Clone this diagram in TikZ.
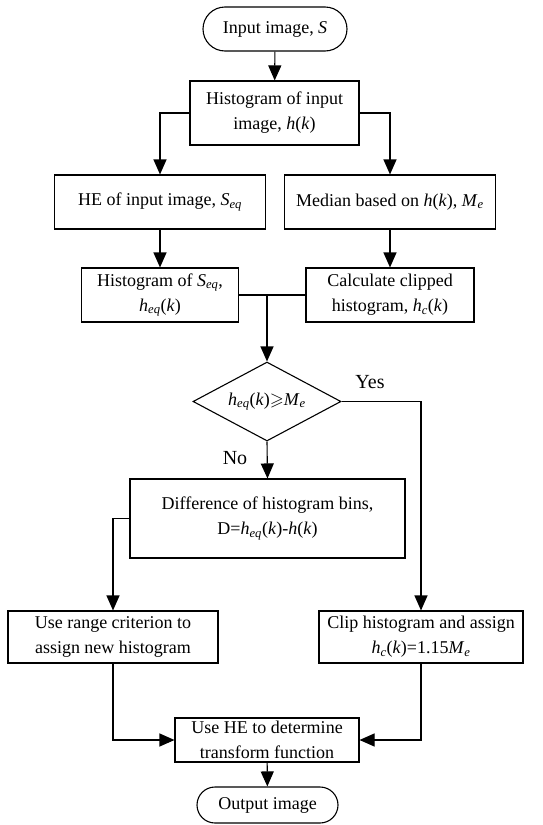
\documentclass[tikz,border=0pt]{standalone}
\usepackage{fontspec}
\setmainfont{Liberation Serif}
\usepackage{amssymb}
\usetikzlibrary{arrows.meta,shapes.geometric}
\newcommand{\iv}[1]{\textit{#1}}
\newcommand{\subi}[1]{\textsubscript{\textit{#1}}}
\begin{document}
\begin{tikzpicture}[x=1pt,y=-1pt,
  every node/.style={font=\fontsize{18}{25}\selectfont},
  stepbox/.style={draw, line width=1.1pt, align=center, inner sep=0pt},
  term/.style={stepbox},
  decision/.style={draw, line width=1.1pt, diamond, aspect=1.87, inner sep=0pt, minimum width=148pt, minimum height=79pt},
  conn/.style={line width=1.1pt},
  arr/.style={conn, -{Triangle[length=15pt,width=13pt]}},
  lbl/.style={font=\fontsize{20}{24}\selectfont}]
\useasboundingbox (0,0) rectangle (542,825);
\node[term, rounded corners=22pt, minimum width=144pt, minimum height=44pt] (in) at (275,29) {Input image, \iv{S}};
\node[stepbox, minimum width=169pt, minimum height=64pt] (hist) at (274.5,113) {Histogram of input\\image, \iv{h}(\iv{k})};
\node[stepbox, minimum width=211pt, minimum height=54pt] (he) at (160,202) {HE of input image, \iv{S}\subi{eq}};
\node[stepbox, minimum width=211pt, minimum height=54pt] (med) at (390,202) {Median based on \iv{h}(\iv{k}), \iv{M}\subi{e}};
\node[stepbox, minimum width=157pt, minimum height=54pt] (hseq) at (160,295) {Histogram of \iv{S}\subi{eq},\\\iv{h}\subi{eq}(\iv{k})};
\node[stepbox, minimum width=168pt, minimum height=54pt] (calc) at (390,295) {Calculate clipped\\histogram, \iv{h}\subi{c}(\iv{k})};
\node[decision] (dia) at (267,401.5) {\iv{h}\subi{eq}(\iv{k})$\geqslant$\iv{M}\subi{e}};
\node[stepbox, minimum width=275pt, minimum height=79pt] (diff) at (267.5,518.5) {Difference of histogram bins,\\D=\iv{h}\subi{eq}(\iv{k})-\iv{h}(\iv{k})};
\node[stepbox, minimum width=210pt, minimum height=52pt] (range) at (113,637) {Use range criterion to\\assign new histogram};
\node[stepbox, minimum width=204pt, minimum height=52pt] (clip) at (421,637) {Clip histogram and assign\\\iv{h}\subi{c}(\iv{k})=1.15\iv{M}\subi{e}};
\node[stepbox, minimum width=184pt, minimum height=44pt] (usehe) at (267,740) {Use HE to determine\\transform function};
\node[term, rounded corners=18pt, minimum width=141pt, minimum height=36pt] (out) at (267.5,805) {Output image};
\node[lbl] (yes) at (370,382) {Yes};
\node[lbl] (no) at (235,458) {No};
\coordinate (j) at (dia.north |- hseq.east);
\draw[arr] (in) -- (hist);
\draw[arr] (hist.west) -| (he.north);
\draw[arr] (hist.east) -| (med.north);
\draw[arr] (he) -- (hseq);
\draw[arr] (med) -- (calc);
\draw[conn] (hseq.east) -- (calc.west);
\draw[arr] (j) -- (dia.north);
\draw[arr] (dia.east) -| (clip.north);
\draw[arr] (dia.south) -- (diff.north);
\draw[arr] (diff.west) -| (range.north);
\draw[arr] (range.south) |- (usehe.west);
\draw[arr] (clip.south) |- (usehe.east);
\draw[arr] (usehe) -- (out);
\end{tikzpicture}
\end{document}
